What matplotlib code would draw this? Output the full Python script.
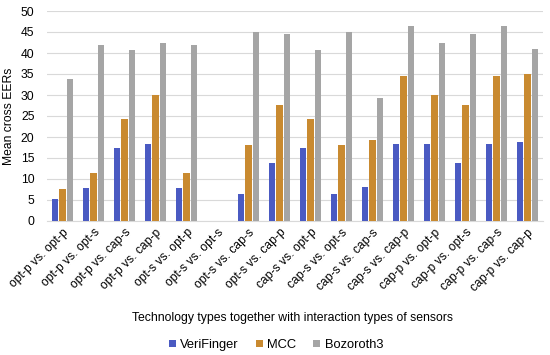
import matplotlib
matplotlib.use("Agg")
import matplotlib.pyplot as plt
import numpy as np

plt.rcParams['font.family'] = ['Liberation Sans', 'DejaVu Sans']

categories = ["opt-p vs. opt-p", "opt-p vs. opt-s", "opt-p vs. cap-s", "opt-p vs. cap-p",
              "opt-s vs. opt-p", "opt-s vs. opt-s", "opt-s vs. cap-s", "opt-s vs. cap-p",
              "cap-s vs. opt-p", "cap-s vs. opt-s", "cap-s vs. cap-s", "cap-s vs. cap-p",
              "cap-p vs. opt-p", "cap-p vs. opt-s", "cap-p vs. cap-s", "cap-p vs. cap-p"]
verifinger = [5.2, 7.8, 17.4, 18.4, 7.8, 0, 6.5, 13.7, 17.4, 6.5, 8.0, 18.3, 18.3, 13.7, 18.3, 18.9]
mcc = [7.5, 11.4, 24.3, 29.9, 11.4, 0, 18.2, 27.5, 24.3, 18.2, 19.3, 34.6, 29.9, 27.5, 34.6, 34.9]
bozorth3 = [33.9, 41.9, 40.6, 42.4, 41.9, 0, 45.0, 44.5, 40.6, 45.0, 29.4, 46.5, 42.4, 44.5, 46.5, 41.0]
series_names = ["VeriFinger", "MCC", "Bozoroth3"]
colors = ["#4A5AC2", "#C98A30", "#A5A5A5"]

fig = plt.figure(figsize=(5.5, 3.55), dpi=100)
ax = fig.add_axes([47/550, 1-221/355, 496/550, 210/355])

x = np.arange(len(categories))
w = 0.2
step = 0.235
for i, (vals, name, c) in enumerate(zip([verifinger, mcc, bozorth3], series_names, colors)):
    ax.bar(x + (i - 1) * step, vals, width=w, color=c, label=name, zorder=3)

ax.set_xlim(-0.5, len(categories) - 0.5)
ax.set_ylim(0, 50)
ax.set_yticks(np.arange(0, 51, 5))
ax.yaxis.grid(True, color="#D9D9D9", linewidth=0.8, zorder=0)
ax.set_axisbelow(True)
for s in ["top", "right", "left"]:
    ax.spines[s].set_visible(False)
ax.spines["bottom"].set_color("#D9D9D9")
ax.tick_params(axis='both', length=0, labelsize=8.7, colors="#000000")
ax.tick_params(axis='y', pad=9)
ax.set_xticks(x)
ax.set_xticklabels(categories, rotation=45, ha='right', rotation_mode='anchor', fontsize=8.7)
ax.tick_params(axis='x', pad=4)
ax.set_ylabel("Mean cross EERs", fontsize=8.7, labelpad=4)
fig.text(0.5 + 17/550, 1 - 318/355, "Technology types together with interaction types of sensors",
         ha='center', va='center', fontsize=8.8)
handles, labels = ax.get_legend_handles_labels()
fig.legend(handles, labels, loc='center', bbox_to_anchor=(276/550, 1 - 345/355), ncol=3,
           frameon=False, fontsize=9.3, handlelength=0.55, handleheight=0.55, handletextpad=0.35,
           columnspacing=1.3, borderpad=0)
fig.savefig("out.png", dpi=100)
